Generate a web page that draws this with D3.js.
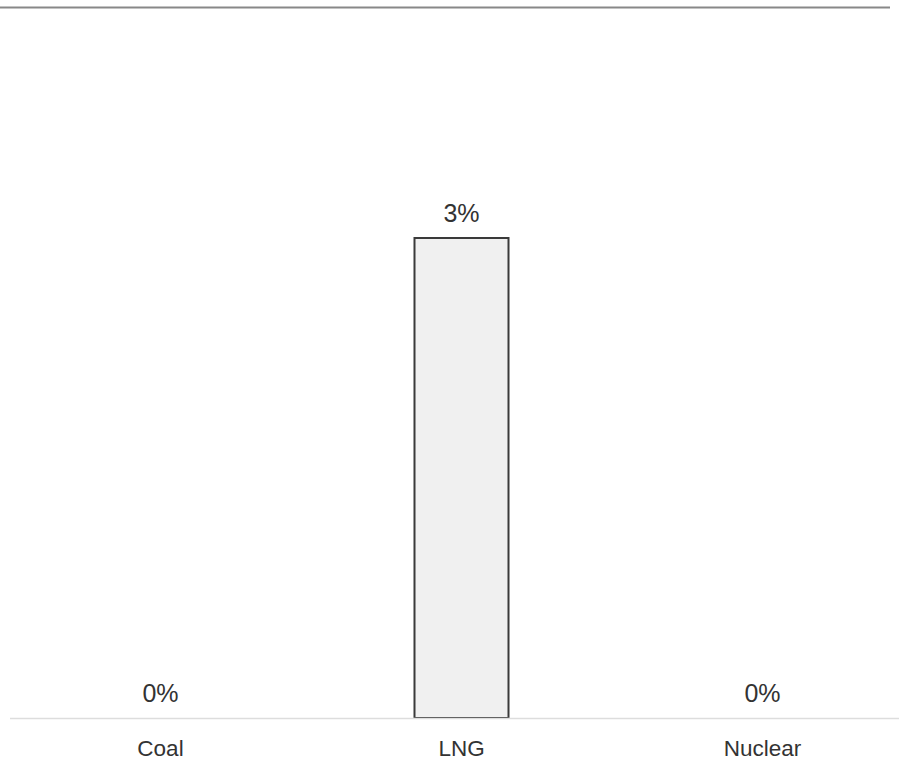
<!DOCTYPE html>
<html>
<head>
<meta charset="utf-8">
<script src="https://cdn.jsdelivr.net/npm/d3@7"></script>
<style>
  html, body { margin: 0; padding: 0; background: #fff; }
  svg { display: block; }
  text { font-family: "Liberation Sans", Arial, sans-serif; fill: #333; }
</style>
</head>
<body>
<div id="chart"></div>
<script>
// Share of generation by fuel type (percent)
const categories = ["Coal", "LNG", "Nuclear"];
const values = [0, 3, 0];
const valueLabels = ["0%", "3%", "0%"];

const width = 899, height = 760;
const svg = d3.select("#chart").append("svg")
  .attr("width", width).attr("height", height);

const x = d3.scaleBand()
  .domain(categories)
  .range([10, 913])
  .paddingInner(0.6877)
  .paddingOuter(0.34385);

const y = d3.scaleLinear()
  .domain([0, 4])
  .range([718, 78]);

// top rule
svg.append("line")
  .attr("x1", 0).attr("x2", 890)
  .attr("y1", 7.5).attr("y2", 7.5)
  .attr("stroke", "#888").attr("stroke-width", 2);

// bars
svg.selectAll("rect.bar")
  .data(categories)
  .join("rect")
  .attr("class", "bar")
  .attr("x", d => x(d))
  .attr("width", x.bandwidth())
  .attr("y", (d, i) => y(values[i]))
  .attr("height", (d, i) => y(0) - y(values[i]))
  .attr("fill", "#f0f0f0")
  .attr("stroke", (d, i) => values[i] > 0 ? "#3a3a3a" : "none")
  .attr("stroke-width", 2);

// baseline
svg.append("line")
  .attr("x1", 10).attr("x2", 899)
  .attr("y1", 718.5).attr("y2", 718.5)
  .attr("stroke", "#ddd").attr("stroke-width", 1.5);

// value labels
svg.selectAll("text.value")
  .data(categories)
  .join("text")
  .attr("class", "value")
  .attr("x", d => x(d) + x.bandwidth() / 2)
  .attr("y", (d, i) => y(values[i]) - 16)
  .attr("text-anchor", "middle")
  .style("font-size", "25px")
  .text((d, i) => valueLabels[i]);

// category labels
const xAxis = svg.append("g")
  .attr("transform", `translate(0,${y(0)})`)
  .call(d3.axisBottom(x).tickSize(0).tickPadding(22));
xAxis.select(".domain").remove();
xAxis.selectAll("text")
  .style("font-size", "22.5px")
  .style("font-family", '"Liberation Sans", Arial, sans-serif')
  .attr("fill", "#333");
</script>
</body>
</html>
